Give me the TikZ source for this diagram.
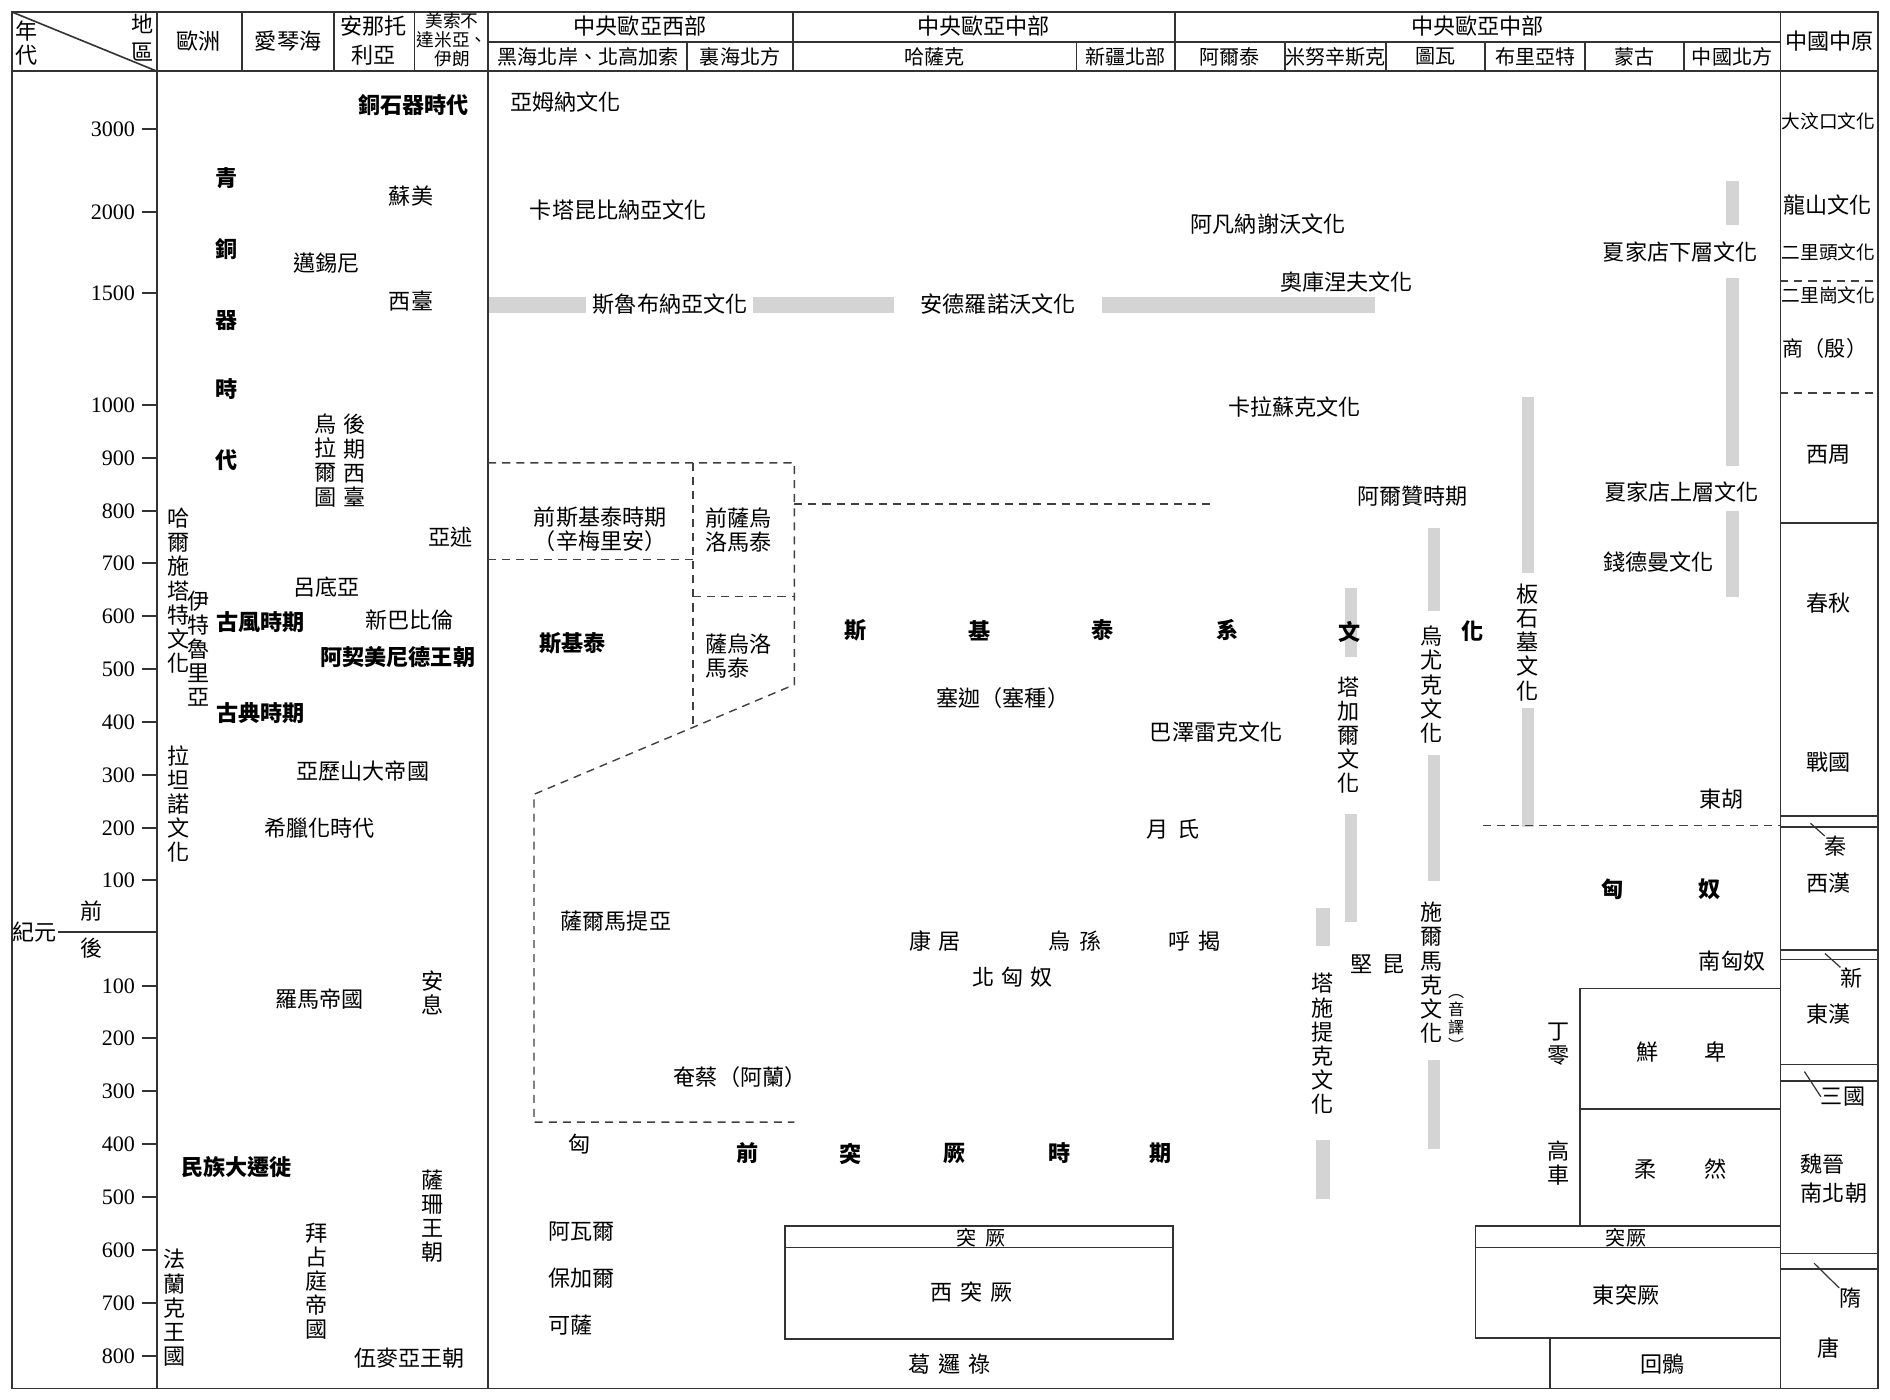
\documentclass[tikz,border=0pt]{standalone}
\usepackage{fontspec}
\newfontfamily\cjk{Noto Sans CJK TC}
\newfontfamily\numf{Liberation Serif}
\tikzset{
  every node/.style={inner sep=0pt, outer sep=0pt},
  tx/.style={font=\cjk\fontsize{11}{12}\selectfont, text=black},
  bx/.style={font=\cjk\bfseries\fontsize{11}{12}\selectfont, text=black},
  vt/.style={tx, align=center},
  hd/.style={font=\cjk\fontsize{11}{14.4}\selectfont, text=black},
  subh/.style={font=\cjk\fontsize{10}{12}\selectfont, text=black},
  cn/.style={font=\cjk\fontsize{9.3}{12}\selectfont, text=black},
  yr/.style={font=\numf\fontsize{11}{12}\selectfont, anchor=east, text=black},
  ln/.style={line width=0.8pt, draw=black!80},
  dl/.style={line width=0.7pt, draw=black!75, dash pattern=on 4pt off 3pt},
  gbar/.style={fill=black!17, draw=none},
}
\begin{document}
\begin{tikzpicture}[x=0.6pt, y=-0.6pt]
\useasboundingbox (0,0) rectangle (1568,1161);
\fill[white] (0,0) rectangle (1568,1161);

% ---------- gray bars ----------
\fill[gbar] (405,246) rectangle (486,260);
\fill[gbar] (625,246) rectangle (742,260);
\fill[gbar] (914,246) rectangle (1141,260);
\fill[gbar] (1432,150) rectangle (1443,187);
\fill[gbar] (1432,231) rectangle (1443,387);
\fill[gbar] (1432,424) rectangle (1443,495);
\fill[gbar] (1263,329) rectangle (1273,475);
\fill[gbar] (1263,587) rectangle (1273,686);
\fill[gbar] (1185,438) rectangle (1195,507);
\fill[gbar] (1185,626) rectangle (1195,731);
\fill[gbar] (1185,879) rectangle (1195,953);
\fill[gbar] (1116,488) rectangle (1126,545);
\fill[gbar] (1116,675) rectangle (1126,765);
\fill[gbar] (1092,753) rectangle (1103,785);
\fill[gbar] (1092,946) rectangle (1103,995);

% ---------- frame ----------
\draw[ln] (10,10) rectangle (1558,1152);
\draw[ln] (10,59) -- (1558,59);
\draw[ln] (405,35) -- (1477,35);
\draw[ln] (10,10) -- (130,59);
\foreach \x in {130,405,1477} \draw[ln] (\x,10) -- (\x,1152);
\foreach \x in {201,277,344,658,975} \draw[ln] (\x,10) -- (\x,59);
\foreach \x in {570,893,1066,1150,1232,1315,1397} \draw[ln] (\x,35) -- (\x,59);

% ---------- header texts ----------
\node[hd] (nian) at (22,26) {年};
\node[hd] (dai) at (22,46) {代};
\node[hd] (di) at (118,20) {地};
\node[hd] (qu) at (118,43) {區};
\node[hd] (ouzhou) at (165,34) {歐洲};
\node[hd] (aiqin) at (239,34) {愛琴海};
\node[hd, align=center] (anna) at (310,34) {安那托\\利亞};
\node[font=\cjk\fontsize{8.8}{9.3}\selectfont, align=center] (meisuo) at (375,33) {美索不\\達米亞、\\伊朗};
\node[hd] (cw) at (531,22) {中央歐亞西部};
\node[hd] (cc1) at (816,22) {中央歐亞中部};
\node[hd] (cc2) at (1226,22) {中央歐亞中部};
\node[hd] (zy) at (1518,34) {中國中原};
\node[subh] (h1) at (488,47) {黑海北岸、北高加索};
\node[subh] (h2) at (614,47) {裏海北方};
\node[subh] (h3) at (775,47) {哈薩克};
\node[subh] (h4) at (934,47) {新疆北部};
\node[subh] (h5) at (1020,47) {阿爾泰};
\node[subh] (h6) at (1108,47) {米努辛斯克};
\node[subh] (h7) at (1191,47) {圖瓦};
\node[subh] (h8) at (1274,47) {布里亞特};
\node[subh] (h9) at (1356,47) {蒙古};
\node[subh] (h10) at (1437,47) {中國北方};

% ---------- year scale ----------
\foreach \y/\t in {107/3000,176/2000,243/1500,336/1000,380/900,424/800,467/700,511/600,555/500,599/400,643/300,687/200,730/100,818/100,861/200,905/300,949/400,993/500,1037/600,1081/700,1125/800} {
  \draw[ln] (118,\y) -- (130,\y);
  \node[yr] (yr\y) at (112,\y) {\t};
}
\node[tx] (jiyuan) at (29,773) {紀元};
\draw[ln] (jiyuan.east) ++(1,0) -- (130,773);
\node[tx] (qian) at (76,756) {前};
\node[tx] (hou) at (76,787) {後};

% ---------- Europe / Near East ----------
\node[bx] (tongshi) at (343,87) {銅石器時代};
\node[bx] (q1) at (188,148) {青};
\node[bx] (q2) at (188,207) {銅};
\node[bx] (q3) at (188,266) {器};
\node[bx] (q4) at (188,323) {時};
\node[bx] (q5) at (188,382) {代};
\node[tx] (sumei) at (341,163) {蘇美};
\node[tx] (maixi) at (271,218) {邁錫尼};
\node[tx] (xitai) at (341,250) {西臺};
\node[vt] (wulaer) at (270,382) {烏\\拉\\爾\\圖};
\node[vt] (houqi) at (294,382) {後\\期\\西\\臺};
\node[vt] (haer) at (148,490) {哈\\爾\\施\\塔\\特\\文\\化};
\node[vt] (yite) at (165,538) {伊\\特\\魯\\里\\亞};
\node[tx] (yashu) at (374,446) {亞述};
\node[tx] (lvdi) at (271,487) {呂底亞};
\node[bx] (gufeng) at (216,516) {古風時期};
\node[tx] (xinba) at (340,514) {新巴比倫};
\node[bx] (aqi) at (330,545) {阿契美尼德王朝};
\node[bx] (gudian) at (216,592) {古典時期};
\node[vt] (latan) at (148,667) {拉\\坦\\諾\\文\\化};
\node[tx] (yali) at (301,640) {亞歷山大帝國};
\node[tx] (xila) at (265,687) {希臘化時代};
\node[tx] (luoma) at (265,829) {羅馬帝國};
\node[vt] (anxi) at (359,824) {安\\息};
\node[bx] (minzu) at (196,968) {民族大遷徙};
\node[vt] (sashan) at (359,1009) {薩\\珊\\王\\朝};
\node[vt] (baizhan) at (263,1063) {拜\\占\\庭\\帝\\國};
\node[vt] (falan) at (145,1085) {法\\蘭\\克\\王\\國};
\node[tx] (wumai) at (340,1127) {伍麥亞王朝};

% ---------- Central Eurasia ----------
\node[tx] (yamu) at (469,85) {亞姆納文化};
\node[tx] (kata) at (513,174) {卡塔昆比納亞文化};
\node[tx] (afan) at (1052,186) {阿凡納謝沃文化};
\node[tx] (aoku) at (1117,234) {奧庫涅夫文化};
\node[tx] (silu) at (556,252) {斯魯布納亞文化};
\node[tx] (ande) at (828,252) {安德羅諾沃文化};
\node[tx] (kala) at (1074,338) {卡拉蘇克文化};
\node[tx] (xjxia) at (1394,209) {夏家店下層文化};
\node[tx] (xjshang) at (1395,408) {夏家店上層文化};
\node[tx] (qiande) at (1376,466) {錢德曼文化};
\node[tx] (aerzan) at (1172,412) {阿爾贊時期};
\node[vt] (banshi) at (1267,533) {板\\石\\墓\\文\\化};
\node[vt] (wuyou) at (1188,568) {烏\\尤\\克\\文\\化};
\node[vt] (tajia) at (1119,610) {塔\\加\\爾\\文\\化};
\node[vt] (tashi) at (1097,866) {塔\\施\\提\\克\\文\\化};
\node[vt] (shier) at (1188,807) {施\\爾\\馬\\克\\文\\化};
\node[font=\cjk\fontsize{8}{9}\selectfont, align=center] (yinyi) at (1208,849) {︵\\音\\譯\\︶};

% dashed regions
\draw[dl] (405,384) -- (659,384) -- (659,568) -- (443,659) -- (443,931) -- (659,931);
\draw[dl] (575,384) -- (575,603);
\draw[dl] (405,464) -- (575,464);
\draw[dl] (575,495) -- (659,495);
\draw[dl] (659,418) -- (1005,418);

\node[tx] (qiansj) at (498,429) {前斯基泰時期};
\node[tx] (xinmei) at (498,449) {（辛梅里安）};
\node[tx, align=left, anchor=west] (qiansa) at (585,440) {前薩烏\\洛馬泰};
\node[bx] (sijitai) at (475,534) {斯基泰};
\node[tx, align=left, anchor=west] (sawu) at (585,544) {薩烏洛\\馬泰};
\node[bx] (s1) at (710,523) {斯};
\node[bx] (s2) at (813,523) {基};
\node[bx] (s3) at (915,523) {泰};
\node[bx] (s4) at (1018,523) {系};
\node[bx] (s5) at (1120,524) {文};
\node[bx] (s6) at (1222,524) {化};
\node[tx] (saijia) at (832,579) {塞迦（塞種）};
\node[tx] (bazelei) at (1009,607) {巴澤雷克文化};
\node[tx] (yuezhi) at (973,688) {月\hspace{.4em}氏};
\node[tx] (saer) at (511,764) {薩爾馬提亞};
\node[tx] (kangju) at (776,781) {康\hspace{.3em}居};
\node[tx] (wusun) at (892,781) {烏\hspace{.4em}孫};
\node[tx] (hujie) at (991,781) {呼\hspace{.4em}揭};
\node[tx] (beixiong) at (840,811) {北\hspace{.3em}匈\hspace{.3em}奴};
\node[tx] (jiankun) at (1143,800) {堅\hspace{.45em}昆};
\node[tx] (yancai) at (614,894) {奄蔡（阿蘭）};
\node[tx] (xiong1) at (481,949) {匈};
\node[bx] (p1) at (620,957) {前};
\node[bx] (p2) at (706,957) {突};
\node[bx] (p3) at (792,957) {厥};
\node[bx] (p4) at (879,957) {時};
\node[bx] (p5) at (963,957) {期};
\node[tx, anchor=west] (awaer) at (455,1022) {阿瓦爾};
\node[tx, anchor=west] (baojia) at (455,1060) {保加爾};
\node[tx, anchor=west] (kesa) at (455,1099) {可薩};

% west Turk box
\draw[ln] (651,1017) rectangle (973,1111);
\draw[ln] (651,1035) -- (973,1035);
\node[font=\cjk\fontsize{10}{12}\selectfont] (tujue1) at (814,1027) {突\hspace{.45em}厥};
\node[tx] (xitujue) at (806,1072) {西\hspace{.35em}突\hspace{.35em}厥};
\node[tx] (geluolu) at (788,1132) {葛\hspace{.35em}邏\hspace{.35em}祿};

% ---------- east side ----------
\node[tx] (donghu) at (1428,663) {東胡};
\draw[dl] (1230,685) -- (1477,685);
\node[bx] (x1) at (1338,738) {匈};
\node[bx] (x2) at (1418,738) {奴};
\node[tx] (nanxiong) at (1437,797) {南匈奴};
\draw[ln] (1311,820) rectangle (1477,1017);
\draw[ln] (1311,920) -- (1477,920);
\node[tx] (xian) at (1367,873) {鮮};
\node[tx] (bei) at (1423,873) {卑};
\node[tx] (rou) at (1365,970) {柔};
\node[tx] (ran) at (1423,970) {然};
\node[vt] (dingling) at (1293,866) {丁\\零};
\node[vt] (gaoche) at (1293,965) {高\\車};
\draw[ln] (1224,1017) rectangle (1477,1110);
\draw[ln] (1224,1035) -- (1477,1035);
\node[font=\cjk\fontsize{10}{12}\selectfont] (tujue2) at (1349,1027) {突厥};
\node[tx] (dongtujue) at (1349,1074) {東突厥};
\draw[ln] (1286,1110) -- (1286,1152);
\node[tx] (huihu) at (1379,1132) {回鶻};

% ---------- China column ----------
\node[cn] (dawenkou) at (1517,101) {大汶口文化};
\node[tx] (longshan) at (1516,170) {龍山文化};
\node[cn] (erlitou) at (1517,209) {二里頭文化};
\draw[dl] (1477,233) -- (1558,233);
\node[cn] (erligang) at (1517,245) {二里崗文化};
\node[font=\cjk\fontsize{10.5}{12}\selectfont] (shang) at (1514,289) {商（殷）};
\draw[dl] (1477,326) -- (1558,326);
\node[tx] (xizhou) at (1517,377) {西周};
\draw[ln] (1477,434) -- (1558,434);
\node[tx] (chunqiu) at (1517,500) {春秋};
\node[tx] (zhanguo) at (1517,632) {戰國};
\draw[ln] (1477,677) -- (1558,677);
\draw[ln] (1477,686) -- (1558,686);
\node[tx] (qin) at (1523,702) {秦};
\coordinate (qinb) at (1502,683);
\draw[line width=0.6pt, draw=black!80] (qinb) -- (qin.north west);
\node[tx] (xihan) at (1517,733) {西漢};
\draw[ln] (1477,788) -- (1558,788);
\draw[ln] (1477,796) -- (1558,796);
\node[tx] (xin) at (1536,811) {新};
\coordinate (xinb) at (1514,791);
\draw[line width=0.6pt, draw=black!80] (xinb) -- (xin.north west);
\node[tx] (donghan) at (1517,841) {東漢};
\draw[ln] (1477,883) -- (1558,883);
\draw[ln] (1477,897) -- (1558,897);
\node[tx] (sanguo) at (1529,910) {三國};
\coordinate (sgb) at (1497,889);
\draw[line width=0.6pt, draw=black!80] (sgb) -- (sanguo.west);
\node[tx, anchor=west] (weijin) at (1494,966) {魏晉};
\node[tx, anchor=west] (nanbei) at (1494,990) {南北朝};
\draw[ln] (1477,1040) -- (1558,1040);
\draw[ln] (1477,1053) -- (1558,1053);
\node[tx] (sui) at (1535,1077) {隋};
\coordinate (suib) at (1505,1048);
\draw[line width=0.6pt, draw=black!80] (suib) -- (sui.north west);
\node[tx] (tang) at (1517,1118) {唐};
\end{tikzpicture}
\end{document}
